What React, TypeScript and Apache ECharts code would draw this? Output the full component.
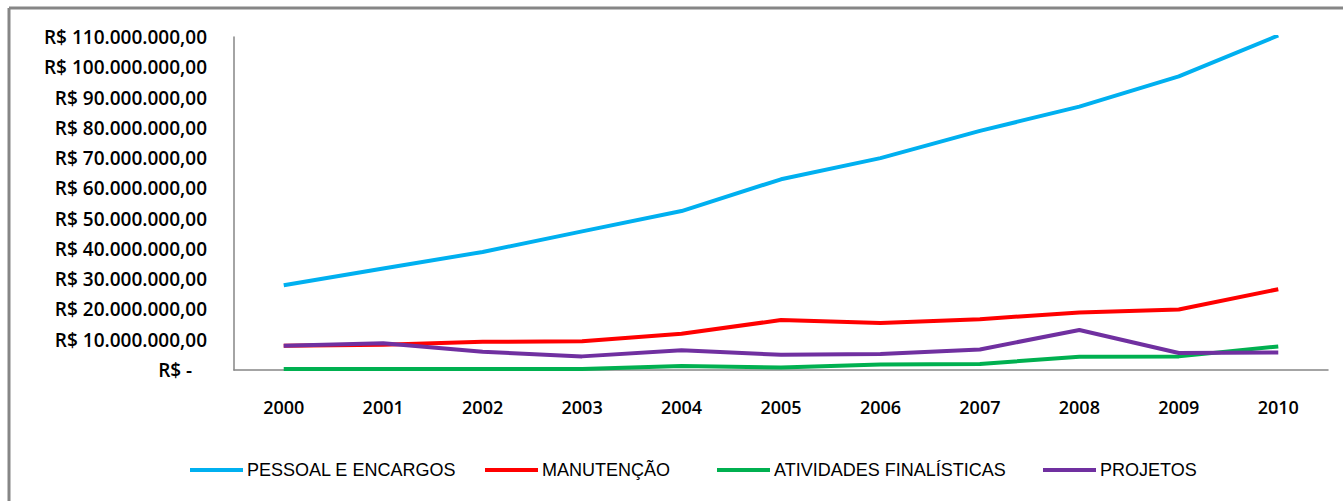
import React, { useEffect, useRef } from "react";
import * as echarts from "echarts";

const years = ["2000", "2001", "2002", "2003", "2004", "2005", "2006", "2007", "2008", "2009", "2010"];
const seriesNames = ["PESSOAL E ENCARGOS", "MANUTENÇÃO", "ATIVIDADES FINALÍSTICAS", "PROJETOS"];
const seriesColors = ["#00B0F0", "#FF0000", "#00B050", "#7030A0"];
const pessoal = [28.0, 33.5, 39.0, 45.8, 52.5, 63.0, 70.0, 79.0, 87.0, 97.0, 110.5];
const manutencao = [8.0, 8.3, 9.3, 9.5, 12.0, 16.5, 15.5, 16.8, 19.0, 20.0, 26.7];
const atividades = [0.3, 0.3, 0.3, 0.3, 1.3, 0.8, 1.8, 2.0, 4.4, 4.5, 7.8];
const projetos = [8.0, 8.8, 6.0, 4.5, 6.5, 5.0, 5.3, 6.8, 13.2, 5.6, 5.8];
const legendLefts = [190, 485, 717, 1043];

function fmt(v: number): string {
  if (v === 0) return "R$ -   ";
  const s = Math.round(v).toString().replace(/\B(?=(\d{3})+(?!\d))/g, ".");
  return "R$ " + s + ",00";
}

export default function App() {
  const ref = useRef<HTMLDivElement>(null);
  useEffect(() => {
    if (!ref.current) return;
    const chart = echarts.init(ref.current, undefined, { renderer: "svg" });
    const data = [pessoal, manutencao, atividades, projetos];
    chart.setOption({
      animation: false,
      backgroundColor: "#ffffff",
      grid: { left: 234, right: 15, top: 37, bottom: 131 },
      xAxis: {
        type: "category",
        data: years,
        boundaryGap: true,
        axisLine: { lineStyle: { color: "#868686", width: 1.5 } },
        axisTick: { show: false },
        axisLabel: {
          margin: 28,
          color: "#000",
          fontFamily: "Open Sans",
          fontWeight: 600,
          fontSize: 18,
        },
      },
      yAxis: {
        type: "value",
        min: 0,
        max: 110000000,
        interval: 10000000,
        splitLine: { show: false },
        axisLine: { show: true, lineStyle: { color: "#868686", width: 1.5 } },
        axisTick: { show: false },
        axisLabel: {
          margin: 27,
          color: "#000",
          fontFamily: "Open Sans",
          fontWeight: 600,
          fontSize: 19,
          formatter: (v: number) => fmt(v),
        },
      },
      legend: legendLefts.map((l, i) => ({
        left: l,
        top: 461,
        padding: 0,
        data: [seriesNames[i]],
        icon: "rect",
        itemWidth: 53,
        itemHeight: 4,
        itemGap: 5,
        textStyle: {
          color: "#000",
          fontSize: 18,
          fontFamily: "Liberation Sans",
          padding: [0, 0, 0, -1],
        },
      })),
      series: data.map((d, i) => ({
        name: seriesNames[i],
        type: "line",
        data: d.map((v) => v * 1000000),
        showSymbol: false,
        symbol: "none",
        color: seriesColors[i],
        lineStyle: { width: 4, color: seriesColors[i] },
      })),
      graphic: [
        { type: "line", shape: { x1: 9, y1: 8, x2: 1343, y2: 8 }, style: { stroke: "#868686", lineWidth: 3 } },
        { type: "line", shape: { x1: 9, y1: 8, x2: 9, y2: 501 }, style: { stroke: "#868686", lineWidth: 3 } },
      ],
    });
    return () => chart.dispose();
  }, []);
  return (
    <div
      ref={ref}
      style={{ position: "fixed", left: 0, top: 0, width: 1343, height: 501 }}
    />
  );
}
